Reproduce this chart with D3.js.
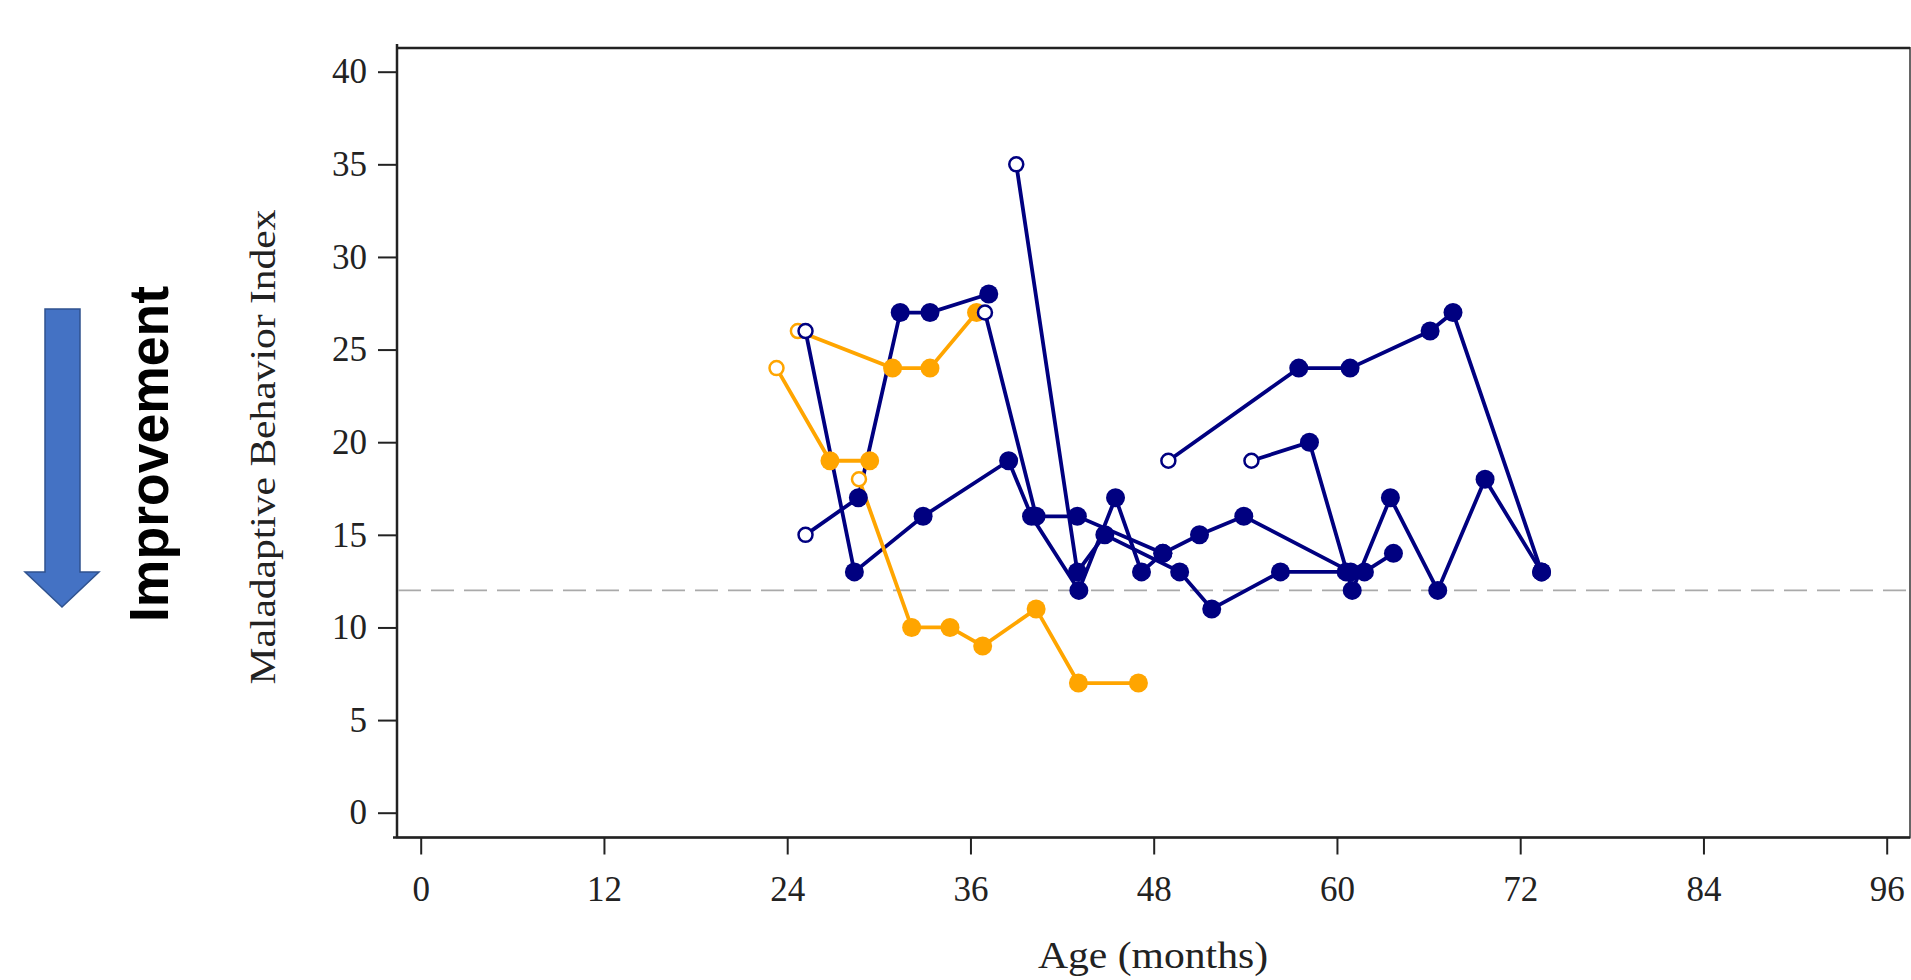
<!DOCTYPE html>
<html>
<head>
<meta charset="utf-8">
<script src="https://cdn.jsdelivr.net/npm/d3@7"></script>
<style>
  body { margin: 0; background: #fff; }
  svg { display: block; }
</style>
</head>
<body>
<script>
// tick labels
const xTicks = [0, 12, 24, 36, 48, 60, 72, 84, 96]
const yTicks = [0, 5, 10, 15, 20, 25, 30, 35, 40]
const cutoff = 12

// orange trajectories (age in months, score)
const orange1Age = [23.3, 26.8, 29.4]
const orange1Score = [24, 19, 19]
const orange2Age = [24.7, 30.9, 33.35, 36.4]
const orange2Score = [26, 24, 24, 27]
const orange3Age = [28.7, 32.15, 34.66, 36.8, 40.3, 43.07, 47.0]
const orange3Score = [18, 10, 10, 9, 11, 7, 7]

// navy trajectories
const navy1Age = [25.2, 28.66, 31.4, 33.35, 37.2]
const navy1Score = [15, 17, 27, 27, 28]
const navy2Age = [25.2, 28.4, 32.9, 38.5, 40.0, 43.1, 45.5, 47.2, 48.6, 51.0, 53.9, 60.9]
const navy2Score = [26, 13, 16, 19, 16, 12, 17, 13, 14, 15, 16, 13]
const navy3Age = [36.95, 40.3, 43.0, 48.6]
const navy3Score = [27, 16, 16, 14]
const navy4Age = [39.0, 43.0, 44.8, 49.7, 51.8, 56.3, 60.6, 61.8, 63.7]
const navy4Score = [35, 13, 15, 13, 11, 13, 13, 13, 14]
const navy5Age = [48.96, 57.5, 60.86, 66.1, 67.6, 73.4]
const navy5Score = [19, 24, 24, 26, 27, 13]
const navy6Age = [54.4, 58.2, 61.0, 63.5, 66.6, 69.7, 73.4]
const navy6Score = [19, 20, 12, 17, 12, 18, 13]

const ORANGE = "#FFA500"
const NAVY = "#000080"

const series = [
  { color: ORANGE, age: orange1Age, score: orange1Score },
  { color: ORANGE, age: orange2Age, score: orange2Score },
  { color: ORANGE, age: orange3Age, score: orange3Score },
  { color: NAVY, age: navy1Age, score: navy1Score },
  { color: NAVY, age: navy2Age, score: navy2Score },
  { color: NAVY, age: navy3Age, score: navy3Score },
  { color: NAVY, age: navy4Age, score: navy4Score },
  { color: NAVY, age: navy5Age, score: navy5Score },
  { color: NAVY, age: navy6Age, score: navy6Score },
].map(s => ({ color: s.color, pts: s.age.map((a, i) => ({ age: a, score: s.score[i], first: i === 0 })) }))

const width = 1911
const height = 980
const frame = { left: 397, top: 48, right: 1910, bottom: 837.5 }

const x = d3.scaleLinear().domain([0, 96]).range([420.7, 1886.7])
const y = d3.scaleLinear().domain([0, 40]).range([812.7, 71.7])

const svg = d3.select("body").append("svg")
  .attr("width", width)
  .attr("height", height)

// improvement arrow
svg.append("path")
  .attr("d", "M45,309 L80,309 L80,572 L99,572 L62,607 L25,572 L45,572 Z")
  .style("fill", "#4472C4")
  .style("stroke", "#2F528F")
  .style("stroke-width", 1.5)

svg.append("text")
  .attr("transform", "translate(168,454) rotate(-90)")
  .attr("text-anchor", "middle")
  .attr("textLength", 336)
  .attr("lengthAdjust", "spacingAndGlyphs")
  .style("font-family", "'Liberation Sans', Arial, sans-serif")
  .style("font-weight", "bold")
  .style("font-size", "56px")
  .text("Improvement")

// frame
svg.append("rect")
  .attr("x", frame.left)
  .attr("y", frame.top)
  .attr("width", frame.right - frame.left)
  .attr("height", frame.bottom - frame.top)
  .style("fill", "none")
  .style("stroke", "#666")
  .style("stroke-width", 2)

svg.append("line")
  .attr("x1", frame.left).attr("x2", frame.left)
  .attr("y1", frame.top - 4).attr("y2", frame.bottom)
  .style("stroke", "#222").style("stroke-width", 2.5)
svg.append("line")
  .attr("x1", frame.left - 4).attr("x2", frame.right)
  .attr("y1", frame.bottom).attr("y2", frame.bottom)
  .style("stroke", "#222").style("stroke-width", 2.5)
svg.append("line")
  .attr("x1", frame.left).attr("x2", frame.right)
  .attr("y1", frame.top).attr("y2", frame.top)
  .style("stroke", "#222").style("stroke-width", 2.5)

// axes
const yAxis = svg.append("g")
  .attr("transform", `translate(${frame.left},0)`)
  .call(d3.axisLeft(y).tickValues(yTicks).tickSize(19).tickPadding(11))
yAxis.select(".domain").remove()

const xAxis = svg.append("g")
  .attr("transform", `translate(0,${frame.bottom})`)
  .call(d3.axisBottom(x).tickValues(xTicks).tickSize(17).tickPadding(22))
xAxis.select(".domain").remove()

svg.selectAll(".tick line").style("stroke", "#222").style("stroke-width", 2)
svg.selectAll(".tick text")
  .style("font-family", "'Liberation Serif', 'Times New Roman', serif")
  .style("font-size", "35px")
  .style("fill", "#222")

// axis titles
svg.append("text")
  .attr("transform", "translate(275,447) rotate(-90)")
  .attr("text-anchor", "middle")
  .attr("textLength", 475)
  .attr("lengthAdjust", "spacingAndGlyphs")
  .style("font-family", "'Liberation Serif', 'Times New Roman', serif")
  .style("font-size", "36px")
  .style("fill", "#222")
  .text("Maladaptive Behavior Index")

svg.append("text")
  .attr("x", 1153)
  .attr("y", 968)
  .attr("text-anchor", "middle")
  .attr("textLength", 230)
  .attr("lengthAdjust", "spacingAndGlyphs")
  .style("font-family", "'Liberation Serif', 'Times New Roman', serif")
  .style("font-size", "37px")
  .style("fill", "#222")
  .text("Age (months)")

// cutoff line
svg.append("line")
  .attr("x1", frame.left + 1).attr("x2", frame.right)
  .attr("y1", y(cutoff)).attr("y2", y(cutoff))
  .style("stroke", "#aaa")
  .style("stroke-width", 1.6)
  .style("stroke-dasharray", "23,10")

// lines
const line = d3.line().x(d => x(d.age)).y(d => y(d.score))
const ordered = series.filter(s => s.color === NAVY).concat(series.filter(s => s.color === ORANGE))

svg.append("g").selectAll("path")
  .data(ordered)
  .enter()
  .append("path")
  .attr("d", s => line(s.pts))
  .style("fill", "none")
  .style("stroke", s => s.color)
  .style("stroke-width", 3.8)

// markers: orange under navy
const markerOrder = series.filter(s => s.color === ORANGE).concat(series.filter(s => s.color === NAVY))
markerOrder.forEach(s => {
  svg.append("g").selectAll("circle")
    .data(s.pts)
    .enter()
    .append("circle")
    .attr("cx", d => x(d.age))
    .attr("cy", d => y(d.score))
    .attr("r", d => d.first ? 7 : 9.5)
    .style("fill", d => d.first ? "#fff" : s.color)
    .style("stroke", s.color)
    .style("stroke-width", d => d.first ? 2.5 : 0)
})
</script>
</body>
</html>
